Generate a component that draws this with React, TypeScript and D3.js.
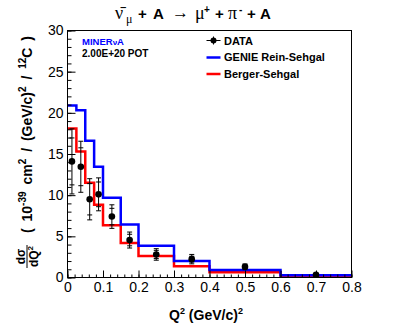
import React, { useEffect, useRef } from 'react';
import { select, scaleLinear, axisBottom, axisLeft, line, curveStepAfter, range } from 'd3';

// Q2 bin edges (GeV/c)^2
const binEdges = [0, 0.025, 0.05, 0.075, 0.1, 0.15, 0.2, 0.3, 0.4, 0.6, 0.8];
// model predictions per bin
const genieRS = [20.9, 20.3, 16.6, 13.45, 9.7, 6.45, 3.85, 2.0, 0.9, 0.28];
const bergerS = [18.1, 15.3, 11.5, 8.85, 6.35, 4.2, 2.6, 1.37, 0.65, 0.17];
// measured points
const dataQ2 = [0.0125, 0.0375, 0.0625, 0.0875, 0.125, 0.175, 0.25, 0.35, 0.5, 0.7];
const dataXs = [14.1, 13.45, 9.5, 10.1, 7.4, 4.55, 2.8, 2.23, 1.3, 0.33];
const statErr = [2.85, 2.3, 1.9, 1.5, 1.0, 0.7, 0.5, 0.35, 0.22, 0.1];
const totalErr = [3.95, 3.1, 2.5, 2.0, 1.43, 0.97, 0.7, 0.57, 0.35, 0.15];
// axis ticks
const xTicks = [0, 0.1, 0.2, 0.3, 0.4, 0.5, 0.6, 0.7, 0.8];
const yTicks = [0, 5, 10, 15, 20, 25, 30];

const SANS = '"Liberation Sans", Arial, Helvetica, sans-serif';
const SERIF = '"Liberation Serif", "DejaVu Serif", serif';

const W = 407;
const H = 328;
const left = 67.5;
const right = 351.5;
const top = 30.5;
const bottom = 277.5;

const x = scaleLinear().domain([0, 0.8]).range([left, right]);
const y = scaleLinear().domain([0, 30]).range([bottom, top]);

const histLine = line<number[]>()
  .x((d) => x(d[0]))
  .y((d) => y(d[1]))
  .curve(curveStepAfter);

const histPoints = (vals: number[]) => {
  const pts = vals.map((v, i) => [binEdges[i], v]);
  pts.push([binEdges[binEdges.length - 1], vals[vals.length - 1]]);
  return pts;
};

const App = () => {
  const axRef = useRef<SVGGElement>(null);

  useEffect(() => {
    const g = select(axRef.current);
    g.selectAll('*').remove();

    // x axis: minor then major ticks, pointing inward
    g.append('g')
      .attr('transform', `translate(0,${bottom})`)
      .call(
        axisBottom(x)
          .tickValues(range(0, 41).map((i) => i * 0.02))
          .tickSize(-3)
          .tickFormat(() => '')
      );
    g.append('g')
      .attr('transform', `translate(0,${bottom})`)
      .call(
        axisBottom(x)
          .tickValues(xTicks)
          .tickSize(-7)
          .tickPadding(5)
          .tickFormat((d) => String(d))
      );

    // y axis
    g.append('g')
      .attr('transform', `translate(${left},0)`)
      .call(
        axisLeft(y)
          .tickValues(range(0, 31))
          .tickSize(-4)
          .tickFormat(() => '')
      );
    g.append('g')
      .attr('transform', `translate(${left},0)`)
      .call(
        axisLeft(y)
          .tickValues(yTicks)
          .tickSize(-8)
          .tickPadding(4)
          .tickFormat((d) => String(d))
      );

    g.selectAll('.domain').remove();
    g.selectAll('.tick line').attr('stroke', '#000').attr('stroke-width', 1);
    g.selectAll('.tick text')
      .attr('font-family', SANS)
      .attr('font-size', 14)
      .attr('fill', '#000');
  }, []);

  return (
    <svg
      width={W}
      height={H}
      style={{ position: 'absolute', left: 0, top: 0, background: '#fff' }}
    >
      {/* title, pieces spaced like the ROOT latex */}
      <g fontFamily={SANS} fontSize={15}>
        <text x={115} y={19} fontFamily={SERIF} fontSize={18}>ν̄</text>
        <text x={126} y={23} fontFamily={SERIF} fontSize={12}>μ</text>
        <text x={138} y={19} fontWeight="bold">+</text>
        <text x={153} y={19} fontWeight="bold">A</text>
        <text x={172} y={18} fontFamily={SERIF} fontSize={17}>→</text>
        <text x={195} y={19} fontFamily={SERIF} fontSize={18}>μ</text>
        <text x={204} y={13} fontWeight="bold" fontSize={10}>+</text>
        <text x={215} y={19} fontWeight="bold">+</text>
        <text x={228} y={19} fontFamily={SERIF} fontSize={18}>π</text>
        <text x={239} y={13} fontWeight="bold" fontSize={10}>-</text>
        <text x={247} y={19} fontWeight="bold">+</text>
        <text x={260} y={19} fontWeight="bold">A</text>
      </g>

      {/* histograms */}
      <path d={histLine(histPoints(bergerS)) || ''} fill="none" stroke="#ff0000" strokeWidth={2.5} />
      <path d={histLine(histPoints(genieRS)) || ''} fill="none" stroke="#0000ff" strokeWidth={2.5} />

      {/* data with stat and total errors */}
      {dataQ2.map((q, i) => {
        const cx = x(q);
        const v = dataXs[i];
        return (
          <g key={i} stroke="#000" strokeWidth={1}>
            <line x1={cx} x2={cx} y1={y(v + totalErr[i])} y2={y(v - totalErr[i])} />
            <line x1={cx - 2.5} x2={cx + 2.5} y1={y(v + totalErr[i])} y2={y(v + totalErr[i])} />
            <line x1={cx - 2.5} x2={cx + 2.5} y1={y(v - totalErr[i])} y2={y(v - totalErr[i])} />
            <line x1={cx - 2.5} x2={cx + 2.5} y1={y(v + statErr[i])} y2={y(v + statErr[i])} />
            <line x1={cx - 2.5} x2={cx + 2.5} y1={y(v - statErr[i])} y2={y(v - statErr[i])} />
            <circle cx={cx} cy={y(v)} r={3.3} fill="#000" stroke="none" />
          </g>
        );
      })}

      {/* axes */}
      <g ref={axRef} />
      <rect
        x={left}
        y={top}
        width={right - left}
        height={bottom - top}
        fill="none"
        stroke="#000"
        strokeWidth={1}
      />

      {/* labels inside the frame */}
      <text x={82} y={45} fontFamily={SANS} fontWeight="bold" fontSize={9.5} fill="#0000ff">
        MINER<tspan fontSize={8}>ν</tspan>A
      </text>
      <text x={82} y={57} fontFamily={SANS} fontWeight="bold" fontSize={10}>
        2.00E+20 POT
      </text>

      {/* legend */}
      <g fontFamily={SANS} fontWeight="bold" fontSize={11}>
        <line x1={206.5} x2={220.5} y1={40.5} y2={40.5} stroke="#000" />
        <line x1={213.5} x2={213.5} y1={36.5} y2={44.5} stroke="#000" />
        <circle cx={213.5} cy={40.5} r={3} fill="#000" />
        <text x={224} y={44.5}>DATA</text>
        <line x1={206.5} x2={220.5} y1={57.5} y2={57.5} stroke="#0000ff" strokeWidth={2.5} />
        <text x={224} y={61}>GENIE Rein-Sehgal</text>
        <line x1={206.5} x2={220.5} y1={74} y2={74} stroke="#ff0000" strokeWidth={2.5} />
        <text x={224} y={77.5}>Berger-Sehgal</text>
      </g>

      {/* x title */}
      <text x={206} y={320} textAnchor="middle" fontFamily={SANS} fontWeight="bold" fontSize={14}>
        Q<tspan fontSize={9} dy={-6}>2</tspan>
        <tspan dy={6}> (GeV/c)</tspan>
        <tspan fontSize={9} dy={-6}>2</tspan>
      </text>

      {/* y title */}
      <g transform="translate(0,268) rotate(-90)" fontFamily={SANS} fontWeight="bold">
        <text x={11.5} y={25} textAnchor="middle" fontSize={12}>dσ</text>
        <line x1={0} x2={23} y1={27} y2={27} stroke="#000" strokeWidth={1} />
        <text x={11.5} y={37.5} textAnchor="middle" fontSize={12}>
          dQ<tspan fontSize={8} dy={-5}>2</tspan>
        </text>
        <text x={35} y={32} fontSize={14} wordSpacing={3}>
          ( 10<tspan fontSize={10} dy={-6}>-39</tspan>
          <tspan dy={6}> cm</tspan>
          <tspan fontSize={10} dy={-6}>2</tspan>
          <tspan dy={6}> / (GeV/c)</tspan>
          <tspan fontSize={10} dy={-6}>2</tspan>
          <tspan dy={6}> / </tspan>
          <tspan fontSize={10} dy={-6}>12</tspan>
          <tspan dy={6}>C )</tspan>
        </text>
      </g>
    </svg>
  );
};

export default App;
